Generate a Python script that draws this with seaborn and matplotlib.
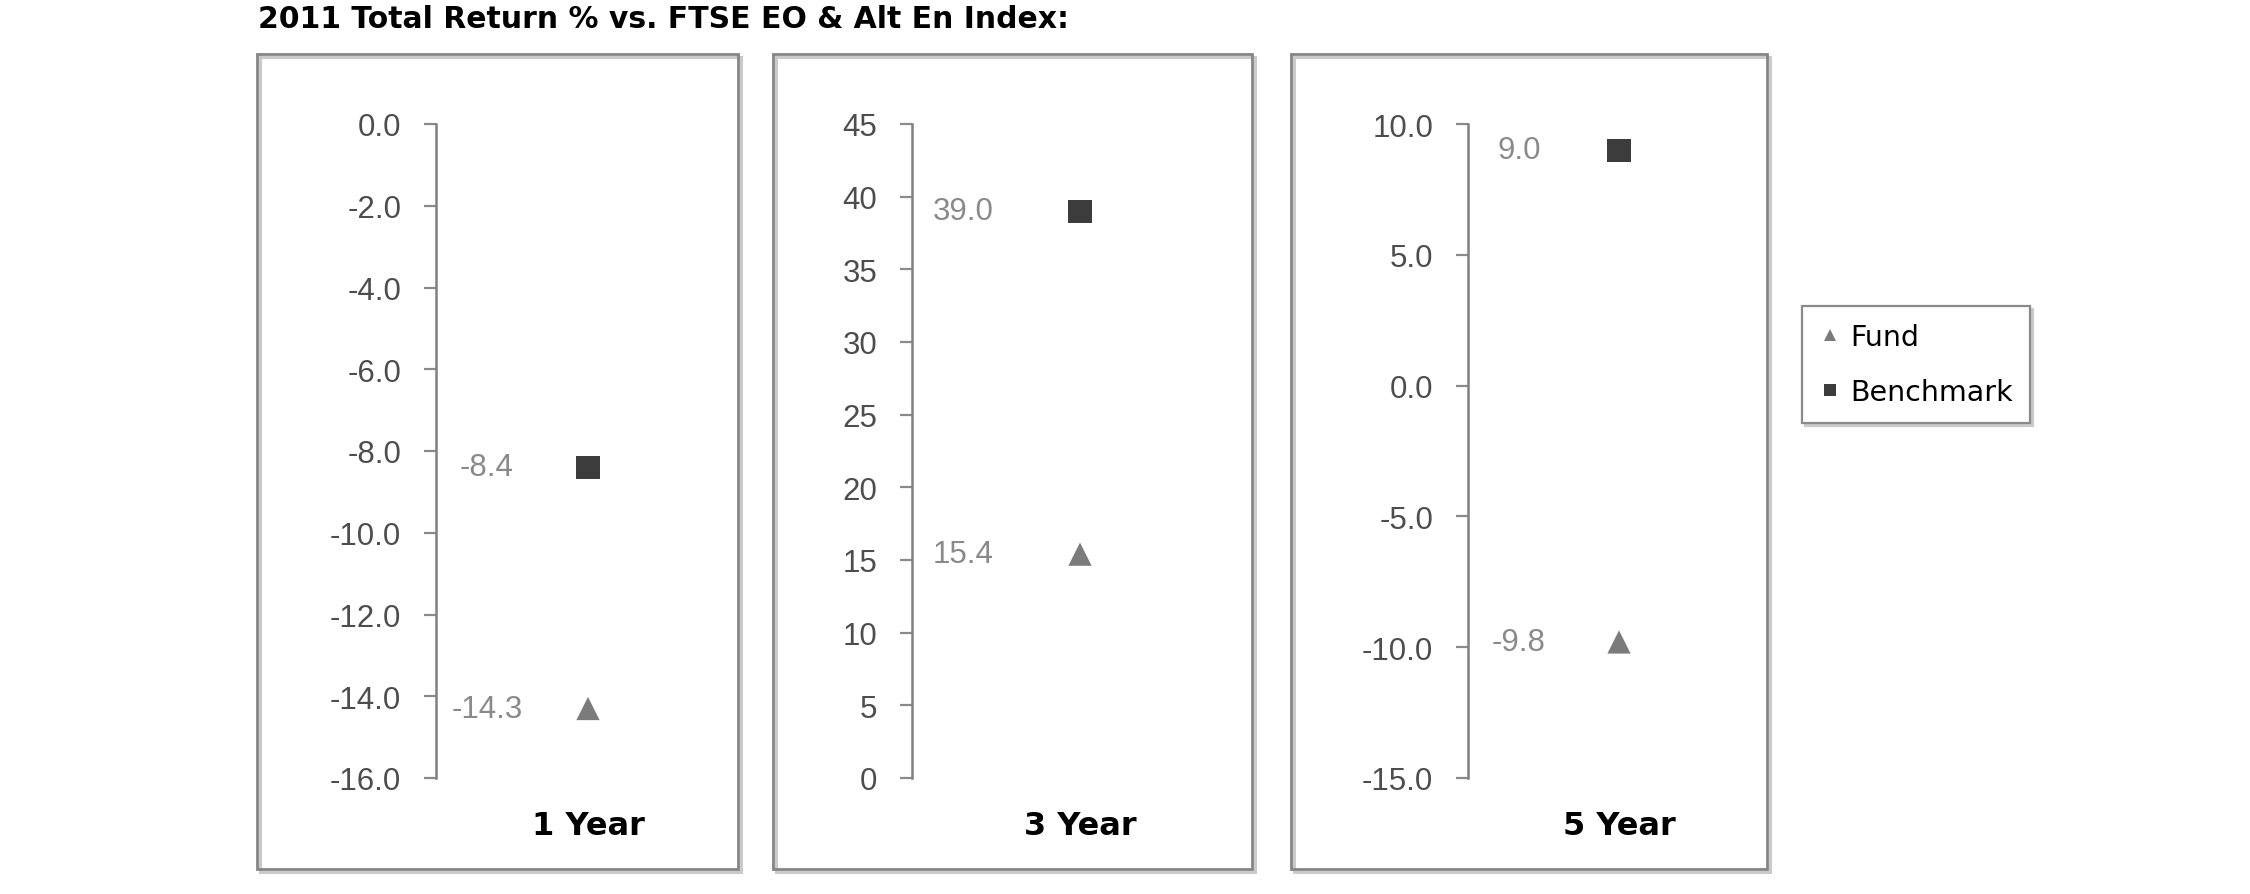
import numpy as np
import pandas as pd
import matplotlib
matplotlib.use("Agg")
import matplotlib.pyplot as plt
from matplotlib.patches import Rectangle
from matplotlib.ticker import MultipleLocator, FormatStrFormatter
import seaborn as sns

# ---------------- data ----------------
title = "2011 Total Return % vs. FTSE EO & Alt En Index:"
periods = ["1 Year", "3 Year", "5 Year"]
series_names = ["Fund", "Benchmark"]
fund_values = [-14.3, 15.4, -9.8]
benchmark_values = [-8.4, 39.0, 9.0]
y_ranges = [(-16, 0), (0, 45), (-15, 10)]
y_steps = [2, 5, 5]
y_formats = ["%.1f", "%d", "%.1f"]

rows = []
for p, f, b in zip(periods, fund_values, benchmark_values):
    rows.append({"period": p, "series": "Fund", "value": f, "x": 0})
    rows.append({"period": p, "series": "Benchmark", "value": b, "x": 0})
df = pd.DataFrame(rows)

palette = {"Fund": "#7b7b7b", "Benchmark": "#3c3c3c"}
markers = {"Fund": "^", "Benchmark": "s"}

# ---------------- layout ----------------
W, H = 2250, 895
sns.set_theme(style="white")
plt.rcParams["font.family"] = ["Liberation Sans", "DejaVu Sans"]

fig = plt.figure(figsize=(W / 100, H / 100), dpi=100)
fig.patch.set_facecolor("white")


def fx(px):
    return px / W


def fy(py):
    return 1 - py / H


boxes = [(257, 738), (773, 1252), (1291, 1767)]
box_top, box_bottom = 55, 870
axes_px = [(436, 588), (912, 1080), (1468, 1619)]  # spine x, marker x
ax_top, ax_bottom = 125, 779

fig.text(fx(258), fy(19), title, fontsize=21.5, fontweight="bold",
         family="DejaVu Sans", ha="left", va="center", color="black")

axes = []
for i, period in enumerate(periods):
    bl, br = boxes[i]
    bw = (br - bl) / W
    bh = (box_bottom - box_top) / H
    fig.patches.append(Rectangle((fx(bl + 3), fy(box_bottom + 3)), bw, bh,
                                 transform=fig.transFigure, fill=False,
                                 edgecolor="#cacaca", linewidth=2.2, zorder=0))
    fig.patches.append(Rectangle((fx(bl), fy(box_bottom)), bw, bh,
                                 transform=fig.transFigure, fill=False,
                                 edgecolor="#858585", linewidth=2.0, zorder=1))

    spine_x, marker_x = axes_px[i]
    half = marker_x - spine_x
    ax = fig.add_axes([fx(spine_x), fy(ax_bottom), 2 * half / W,
                       (ax_bottom - ax_top) / H])
    ax.set_facecolor("none")
    sub = df[df["period"] == period]
    sns.scatterplot(data=sub, x="x", y="value", hue="series", style="series",
                    hue_order=series_names, style_order=series_names,
                    palette=palette, markers=markers, s=280, linewidth=0,
                    ax=ax, legend=(i == 2), zorder=3, clip_on=False)
    ax.set_xlim(-1, 1)
    ax.set_ylim(*y_ranges[i])
    ax.yaxis.set_major_locator(MultipleLocator(y_steps[i]))
    ax.yaxis.set_major_formatter(FormatStrFormatter(y_formats[i]))
    ax.set_xticks([0])
    ax.set_xticklabels([period])
    ax.set_xlabel("")
    ax.set_ylabel("")
    ax.grid(False)
    sns.despine(ax=ax, top=True, right=True, bottom=True, left=False)
    ax.spines["left"].set_color("#808080")
    ax.spines["left"].set_linewidth(1.8)
    ax.tick_params(axis="y", direction="out", length=8.6, width=1.6,
                   color="#8a8a8a", pad=16.5, labelsize=22.5,
                   labelcolor="#4d4d4d", left=True)
    ax.tick_params(axis="x", length=0, pad=23, labelsize=23,
                   labelcolor="black")
    for lab in ax.get_xticklabels():
        lab.set_fontweight("bold")
        lab.set_family("DejaVu Sans")

    trans = ax.get_yaxis_transform()
    for _, r in sub.iterrows():
        ax.text(51 / (2 * half), r["value"], f"{r['value']:.1f}",
                transform=trans, ha="center", va="center",
                fontsize=22.5, color="#8a8a8a")
    axes.append(ax)

sns.move_legend(axes[2], loc="upper left",
                bbox_to_anchor=(fx(1802), fy(307)),
                bbox_transform=fig.transFigure, title=None,
                frameon=True, fancybox=False, markerscale=0.5,
                prop={"family": "DejaVu Sans", "size": 20.5},
                borderaxespad=0, borderpad=0.6, labelspacing=0.95,
                handlelength=0.8, handletextpad=0.3,
                shadow={"color": "#cacaca", "alpha": 1.0})
leg = axes[2].get_legend()
leg.get_frame().set_edgecolor("#8a8a8a")
leg.get_frame().set_linewidth(1.6)
leg.get_frame().set_facecolor("white")
for t in leg.get_texts():
    t.set_color("black")

fig.savefig("out.png", dpi=100, facecolor="white")
